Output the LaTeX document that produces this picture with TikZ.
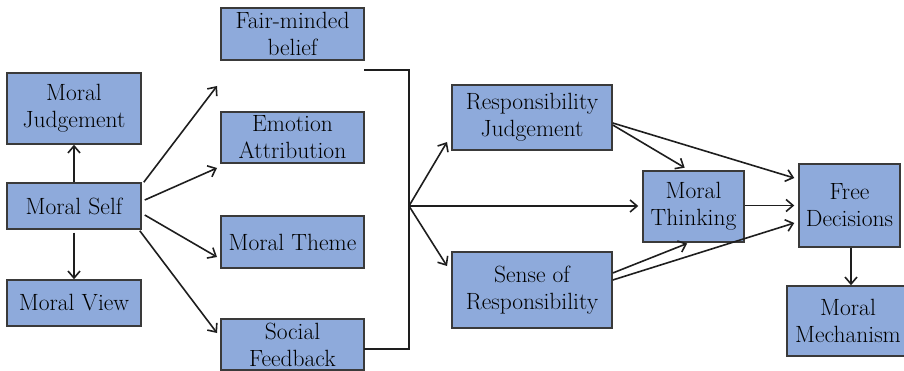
\documentclass[tikz,border=0pt]{standalone}
\usetikzlibrary{arrows.meta,calc}
\definecolor{boxfill}{RGB}{142,170,219}
\definecolor{boxline}{RGB}{58,58,58}
\definecolor{inkline}{RGB}{30,30,30}
\begin{document}
\begin{tikzpicture}[x=1pt,y=-1pt,
  box/.style={draw=boxline,fill=boxfill,line width=1.5pt,inner sep=0pt,
    align=center,text=black,font=\fontsize{23.5}{27}\selectfont},
  link/.style={draw=inkline,line width=1.6pt},
  arr/.style={link,-{Straight Barb[length=7pt,width=12pt]}}]
\useasboundingbox (0,0) rectangle (904,371);
\begin{scope}
\clip (0,0) rectangle (904,371);
% left column
\node[box,minimum width=134pt,minimum height=71pt] (mj) at (74,108.5) {Moral\\Judgement};
\node[box,minimum width=134pt,minimum height=46pt] (ms) at (74,206) {Moral Self};
\node[box,minimum width=134pt,minimum height=46pt] (mv) at (74,303) {Moral View};
% second column
\node[box,minimum width=143pt,minimum height=52pt] (fair) at (292.5,34) {Fair-minded\\belief};
\node[box,minimum width=143pt,minimum height=51pt] (emo) at (292.5,137.5) {Emotion\\Attribution};
\node[box,minimum width=143pt,minimum height=52pt] (theme) at (292.5,242) {Moral Theme};
\node[box,minimum width=143pt,minimum height=51pt] (social) at (292.5,344.5) {Social\\Feedback};
% right part
\node[box,minimum width=160pt,minimum height=65pt] (rj) at (532,117.5) {Responsibility\\Judgement};
\node[box,minimum width=160pt,minimum height=76pt] (sr) at (532,290) {Sense of\\Responsibility};
\node[box,minimum width=101pt,minimum height=71pt] (mt) at (693.5,206.5) {Moral\\Thinking};
\node[box,minimum width=101pt,minimum height=83pt] (fd) at (849.5,205.5) {Free\\Decisions};
\node[box,minimum width=122pt,minimum height=70pt] (mm) at (848,321) {Moral\\Mechanism};
\end{scope}
% free arrow ends and bracket points
\coordinate (e1) at (217,86);
\coordinate (e2) at (217,168);
\coordinate (e3) at (217,257);
\coordinate (e4) at (217,333);
\coordinate (btop) at (364,70);
\coordinate (bbot) at (364,349);
\coordinate (hub) at (409,206);
\coordinate (h1) at (447,142);
\coordinate (h2) at (447,266);
% moral self up and down
\draw[arr] (ms.north) -- (mj.south);
\draw[arr] ($(ms.south)+(0,3)$) -- (mv.north);
% moral self fan
\draw[arr] ($(ms.north east)+(2,0)$) -- (e1);
\draw[arr] ($(ms.east)+(3,-6)$) -- (e2);
\draw[arr] ($(ms.east)+(3,9)$) -- (e3);
\draw[arr] ($(ms.south east)+(-2,1)$) -- (e4);
% bracket collecting the second column
\draw[link] (btop) -- (btop -| hub) -- (bbot -| hub) -- (bbot);
\draw[arr] (hub) -- (h1);
\draw[arr] (hub) -- (h2);
\draw[arr,shorten >=4pt] (hub) -- (hub -| mt.west);
% right side links
\draw[arr,shorten >=5pt] ($(rj.east)+(0,7.5)$) -- ($(mt.north)+(-4.5,0)$);
\draw[arr] ($(rj.east)+(0,5.5)$) -- ($(fd.west)+(-4,-27.5)$);
\draw[arr,shorten >=4pt] (mt.east |- fd.west) -- (fd.west);
\draw[arr,shorten >=2pt] ($(sr.east)+(0,-17)$) -- ($(mt.south)+(-4.5,0)$);
\draw[arr] ($(sr.east)+(0,-10)$) -- ($(fd.west)+(-4,17.5)$);
\draw[arr] (fd.south -| 851,0) -- (mm.north -| 851,0);
\end{tikzpicture}
\end{document}
